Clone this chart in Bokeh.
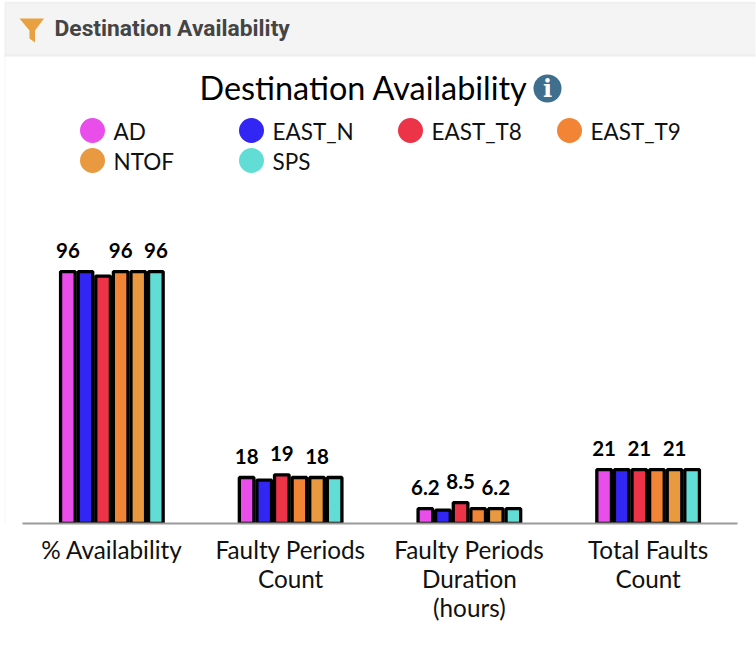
from bokeh.plotting import figure
from bokeh.models import (ColumnDataSource, FactorRange, Range1d, Label, BoxAnnotation,
                          PolyAnnotation)
from bokeh.transform import dodge
from bokeh.core.properties import value
from bokeh.embed import file_html
from bokeh.resources import INLINE

categories = ["% Availability", "Faulty Periods\nCount",
              "Faulty Periods\nDuration\n(hours)", "Total Faults\nCount"]
series_names = ["AD", "EAST_N", "EAST_T8", "EAST_T9", "NTOF", "SPS"]
colors = ["#E94EEA", "#3226F5", "#EC3347", "#F28535", "#E99A40", "#62DDD5"]

ad = [96, 18, 6.2, 21]
east_n = [96, 17, 5.6, 21]
east_t8 = [94.3, 19, 8.5, 21]
east_t9 = [96, 18, 6.2, 21]
ntof = [96, 18, 6.2, 21]
sps = [96, 18, 6.2, 21]
series_values = [ad, east_n, east_t8, east_t9, ntof, sps]

# labels that stay visible after the original's collision hiding
ad_labels = ["96", "18", "6.2", "21"]
east_n_labels = ["", "", "", ""]
east_t8_labels = ["", "19", "8.5", "21"]
east_t9_labels = ["96", "", "", ""]
ntof_labels = ["", "18", "6.2", "21"]
sps_labels = ["96", "", "", ""]
series_labels = [ad_labels, east_n_labels, east_t8_labels, east_t9_labels, ntof_labels, sps_labels]

W, H = 756, 647
FRAME_LEFT = 4
LEFT, BASE = 22, 523
UNIT = 178.75
PAD = LEFT - FRAME_LEFT
PX_PER_UNIT = 2.64
Y0 = 0.57
FONT = "Lato"

x_range = FactorRange(factors=categories, range_padding=PAD / UNIT, range_padding_units="absolute")
y_range = Range1d(Y0, Y0 + BASE / PX_PER_UNIT)

p = figure(width=W, height=H, x_range=x_range, y_range=y_range,
           output_backend="svg", toolbar_location=None,
           min_border_left=FRAME_LEFT, min_border_right=W - (FRAME_LEFT + int(round(4 * UNIT + 2 * PAD))),
           min_border_top=0, min_border_bottom=H - BASE,
           outline_line_color=None, background_fill_color=None,
           border_fill_color="white", margin=0)

p.grid.visible = False
p.yaxis.visible = False
ax = p.xaxis[0]
ax.bounds = (0, len(categories))
ax.major_tick_line_color = None
ax.minor_tick_line_color = None
ax.axis_line_color = "#9a9a9a"
ax.axis_line_width = 2
ax.major_label_text_font = FONT
ax.major_label_text_font_size = "24.3px"
ax.major_label_text_line_height = 1.0
ax.major_label_text_color = "#111111"
ax.major_label_standoff = 5
ax.major_label_orientation = "horizontal"

STEP = 17.6 / UNIT
BAR = 14.6 / UNIT

for i, (name, vals, labs, col) in enumerate(zip(series_names, series_values, series_labels, colors)):
    off = (i - 2.5) * STEP
    src = ColumnDataSource(dict(cat=categories, v=vals, lab=labs))
    p.vbar(x=dodge("cat", off, range=x_range), top="v", width=BAR, bottom=-5, source=src,
           fill_color=col, line_color="black", line_width=3.3)
    p.text(x=dodge("cat", off, range=x_range), y="v", text="lab", source=src,
           text_font=value(FONT), text_font_style="bold", text_font_size="20.5px",
           text_color="black", text_align="center", text_baseline="middle", y_offset=-21)


def dx(px):
    return (px - LEFT) / UNIT


def dy(py):
    return Y0 + (BASE - py) / PX_PER_UNIT


def sx(px):
    return px - FRAME_LEFT


def sy(py):
    return BASE - py


# panel chrome
p.add_layout(BoxAnnotation(left=sx(FRAME_LEFT), right=sx(W + 10), top=sy(55), bottom=sy(H + 10),
                           left_units="screen", right_units="screen",
                           top_units="screen", bottom_units="screen",
                           fill_color="white", fill_alpha=1, line_color="#dddddd",
                           line_width=2, level="underlay", editable=False))
p.add_layout(BoxAnnotation(left=sx(FRAME_LEFT), right=sx(W + 10), top=sy(2), bottom=sy(55),
                           left_units="screen", right_units="screen",
                           top_units="screen", bottom_units="screen",
                           fill_color="#F4F4F4", fill_alpha=1, line_color="#dddddd",
                           line_width=2, level="underlay"))
p.add_layout(PolyAnnotation(xs=[sx(v) for v in [19, 43.5, 34.5, 34.5, 29, 29]],
                            ys=[sy(v) for v in [18, 18, 30, 42, 38, 30]],
                            xs_units="screen", ys_units="screen",
                            fill_color="#E8A040", fill_alpha=1, line_color=None))


def label(x, y, text, size, **kw):
    p.add_layout(Label(x=sx(x), y=sy(y), x_units="screen", y_units="screen", text=text,
                       text_font=kw.pop("font", FONT), text_font_size=size,
                       text_baseline="middle", **kw))


label(54, 28, "Destination Availability", "22.8px", font="Roboto",
      text_color="#444444", text_font_style="bold")
label(199, 87, "Destination Availability", "32.4px", text_color="black")

# info icon
p.scatter(x=[dx(547)], y=[dy(88)], size=28, marker="circle", fill_color="#3F6F8F", line_color=None)
label(547, 88, "i", "24px", font="DejaVu Serif", text_color="white", text_font_style="bold", text_align="center")

# legend
legend_x = [92, 251, 410, 569, 92, 251]
legend_y = [130, 130, 130, 130, 160, 160]
p.scatter(x=[dx(v) for v in legend_x], y=[dy(v) for v in legend_y], size=25, marker="circle",
          fill_color=colors, line_color=None)
for nm, lx, ly in zip(series_names, legend_x, legend_y):
    label(lx + 21, ly + 1, nm, "22.5px", text_color="#111111")

open("out.html", "w").write(file_html(p, INLINE))
